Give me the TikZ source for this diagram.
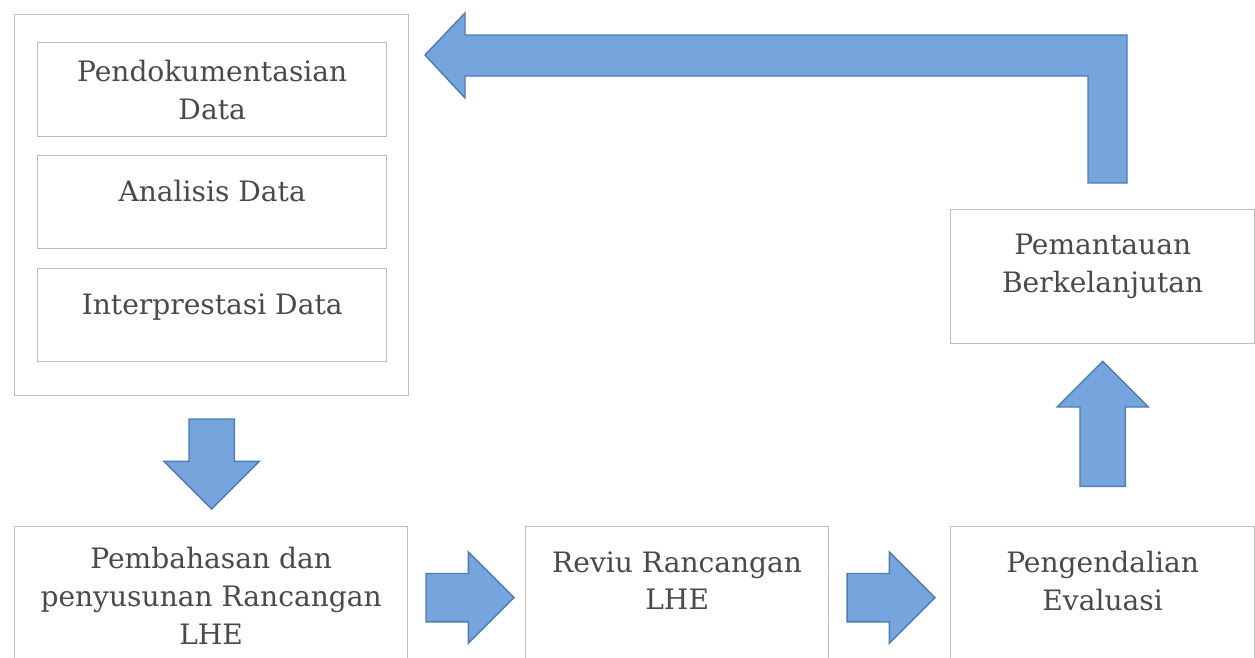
\documentclass[tikz,border=0pt]{standalone}
\usepackage{fontspec}
\setmainfont{DejaVu Serif}
\usepackage{xcolor}
\usepackage{tikz}
\usetikzlibrary{shapes.arrows, calc}

\definecolor{boxline}{HTML}{BDBDBD}
\definecolor{textgray}{HTML}{4A4A4A}
\definecolor{arrowfill}{HTML}{76A4DC}
\definecolor{arrowline}{HTML}{4D7CB5}

\tikzset{
    box/.style={draw=boxline, line width=0.8pt, fill=white, inner sep=0pt, anchor=north west},
    lbl/.style={text=textgray, align=center, inner sep=0pt, anchor=north,
        font=\fontsize{16}{21.5}\selectfont},
    barrow/.style={single arrow, draw=arrowline, fill=arrowfill, line width=0.8pt,
        inner xsep=0pt, inner ysep=0.47cm, single arrow head extend=0.43cm, anchor=tail}
}

\begin{document}
\begin{tikzpicture}[x=0.02cm, y=-0.02cm]
    \useasboundingbox (0,0) rectangle (1255,657);

    % left group
    \node[box, minimum width=7.88cm, minimum height=7.62cm] (dok) at (14,14) {};
    \node[box, minimum width=6.98cm, minimum height=1.88cm] (pdk) at (37,42) {};
    \node[box, minimum width=6.98cm, minimum height=1.86cm] (ana) at (37,155) {};
    \node[box, minimum width=6.98cm, minimum height=1.86cm] (itp) at (37,268) {};
    \node[lbl] at ([yshift=-0.36cm]pdk.north) {Pendokumentasian\\Data};
    \node[lbl] at ([yshift=-0.5cm]ana.north) {Analisis Data};
    \node[lbl] at ([yshift=-0.5cm]itp.north) {Interprestasi Data};

    % bottom row
    \node[box, minimum width=7.86cm, minimum height=2.84cm] (pbh) at (14,526) {};
    \node[box, minimum width=6.06cm, minimum height=2.84cm] (rev) at (525,526) {};
    \node[box, minimum width=6.08cm, minimum height=2.84cm] (pgd) at (950,526) {};
    \node[lbl] at ([yshift=-0.42cm]pbh.north) {Pembahasan dan\\penyusunan Rancangan\\LHE};
    \node[lbl] at ([yshift=-0.5cm]rev.north) {Reviu Rancangan\\LHE};
    \node[lbl] at ([yshift=-0.5cm]pgd.north) {Pengendalian\\Evaluasi};

    % right box
    \node[box, minimum width=6.08cm, minimum height=2.68cm] (pmt) at (950,209) {};
    \node[lbl] at ([yshift=-0.5cm]pmt.north) {Pemantauan\\Berkelanjutan};

    % block arrows
    \node[barrow, minimum height=1.8cm, rotate=-90, inner ysep=0.44cm,
        single arrow head extend=0.5cm] (a1) at ([yshift=-0.44cm]dok.south) {};
    \node[barrow, minimum height=1.76cm] (a2) at ([xshift=0.34cm]pbh.east) {};
    \node[barrow, minimum height=1.76cm] (a3) at ([xshift=0.34cm]rev.east) {};
    \node[barrow, minimum height=2.5cm, rotate=90, inner ysep=0.44cm,
        single arrow head extend=0.46cm] (a4) at ([yshift=0.78cm]pgd.north) {};

    % return arrow
    \coordinate (tip) at (425,55);
    \coordinate (bend) at (1127,35);
    \coordinate (foot) at (1088,183);
    \filldraw[draw=arrowline, fill=arrowfill, line width=0.8pt, line join=miter]
        (tip) -- (465,13) -- (465,35) -- (bend) -- (bend |- foot) -- (foot)
        -- (foot |- 0,76) -- (465,76) -- (465,98) -- cycle;

\end{tikzpicture}
\end{document}
